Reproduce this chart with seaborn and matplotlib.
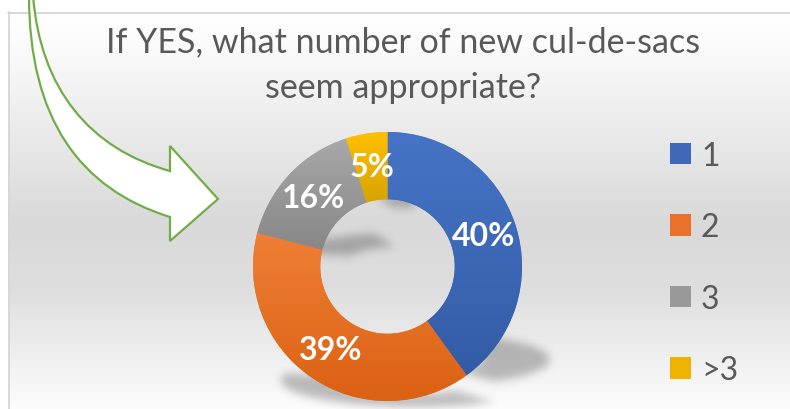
import numpy as np
import pandas as pd
import matplotlib
matplotlib.use("Agg")
import matplotlib.pyplot as plt
import seaborn as sns
from matplotlib.path import Path
from matplotlib.patches import PathPatch
from matplotlib.colors import LinearSegmentedColormap

# ---- data -------------------------------------------------------------
categories = ["1", "2", "3", ">3"]
shares = [40, 39, 16, 5]
title_lines = ["If YES, what number of new cul-de-sacs", "seem appropriate?"]

df = pd.DataFrame({"answer": categories, "share": shares})

# ---- style ------------------------------------------------------------
sns.set_theme(style="white")
plt.rcParams["font.family"] = ["Lato", "DejaVu Sans"]

TEXT = "#595959"
slice_top = ["#4674c6", "#ef7f35", "#a8a8a8", "#ffc000"]
slice_bottom = ["#335ca6", "#db6113", "#878787", "#d8a200"]
palette = sns.color_palette(["#3f69b8", "#e8702a", "#999999", "#eeb300"])

W, H = 790, 410
fig = plt.figure(figsize=(W / 100, H / 100), dpi=100)

# ---- background layer (pixel coordinates, y down) ---------------------
bg = fig.add_axes([0, 0, 1, 1], zorder=0)
bg.set_xlim(0, W)
bg.set_ylim(H, 0)
bg.axis("off")

rows = np.arange(H) + 0.5
level = np.interp(rows, [13, 45, 225, 290, 410], [1.0, 0.985, 0.85, 0.87, 0.99])
shade = np.repeat(level[:, None], W, axis=1)
shade[:13, :] = 1.0
shade[:, :8] = 1.0
bg.imshow(np.dstack([shade] * 3), extent=(0, W, H, 0), aspect="auto",
          interpolation="bilinear", zorder=0)
bg.plot([8, W], [13.5, 13.5], color="#d6d6d6", lw=1.3, zorder=1)
bg.plot([8.5, 8.5], [13, H], color="#d6d6d6", lw=1.3, zorder=1)

# ---- donut ------------------------------------------------------------
cx, cy, R = 387.5, 267.5, 134.5
ax = fig.add_axes([(cx - R) / W, (H - cy - R) / H, 2 * R / W, 2 * R / H], zorder=2)
ax.set_facecolor("none")

wedges, texts, autotexts = ax.pie(
    df["share"], colors=palette, startangle=90, counterclock=False,
    radius=1.0, autopct="%.0f%%", pctdistance=0.75,
    wedgeprops=dict(width=0.5, linewidth=0),
    textprops=dict(color="white", fontsize=23, fontweight="bold"),
)

# vertical colour gradient inside every slice
for w, top, bot in zip(wedges, slice_top, slice_bottom):
    ext = w.get_path().get_extents()
    cmap = LinearSegmentedColormap.from_list("g", [bot, top])
    grad = np.linspace(0, 1, 256).reshape(-1, 1)
    im = ax.imshow(grad, cmap=cmap, origin="lower", aspect="auto",
                   extent=(ext.x0, ext.x1, ext.y0, ext.y1),
                   interpolation="bilinear", zorder=w.get_zorder() + 0.1)
    im.set_clip_path(w)

ax.set_xlim(-1, 1)
ax.set_ylim(-1, 1)
ax.axis("off")

# ---- soft floor shadow under each slice --------------------------------
yy, xx = np.mgrid[0:H, 0:W]
pts = np.column_stack([xx.ravel() + 0.5, H - yy.ravel() - 0.5])
mask = np.zeros(H * W)
squash, shift_x, shift_y = 0.2, 28, -6
for w in wedges:
    p = w.get_transform().transform_path(w.get_path())
    e = p.get_extents()
    v = p.vertices.copy()
    v[:, 1] = e.y0 + (v[:, 1] - e.y0) * squash + shift_y
    v[:, 0] = v[:, 0] + shift_x
    mask = np.maximum(mask, Path(v, p.codes).contains_points(pts))
mask = mask.reshape(H, W)


def gauss_blur(a, sigma):
    r = int(3 * sigma)
    t = np.arange(-r, r + 1)
    k = np.exp(-t ** 2 / (2 * sigma ** 2))
    k /= k.sum()
    a = np.apply_along_axis(lambda m: np.convolve(m, k, mode="same"), 0, a)
    a = np.apply_along_axis(lambda m: np.convolve(m, k, mode="same"), 1, a)
    return a


soft = gauss_blur(mask, 4.5)
rgba = np.zeros((H, W, 4))
rgba[..., 3] = soft * 0.25
bg.imshow(rgba, extent=(0, W, H, 0), aspect="auto", interpolation="bilinear", zorder=2)

# ---- curved callout arrow ---------------------------------------------
arrow_verts = [
    (33, -4),
    (40, 90), (90, 150), (170, 172),
    (170, 147), (218, 200), (170, 242), (170, 218),
    (80, 190), (29, 120), (29, -4),
    (33, -4),
]
arrow_codes = [Path.MOVETO,
               Path.CURVE4, Path.CURVE4, Path.CURVE4,
               Path.LINETO, Path.LINETO, Path.LINETO, Path.LINETO,
               Path.CURVE4, Path.CURVE4, Path.CURVE4,
               Path.CLOSEPOLY]
bg.add_patch(PathPatch(Path(arrow_verts, arrow_codes), facecolor="white",
                       edgecolor="#70ad47", lw=1.6, zorder=3))

# ---- title & legend ----------------------------------------------------
for line, base in zip(title_lines, [52, 98]):
    fig.text(403 / W, 1 - base / H, line, ha="center", va="baseline",
             fontsize=24.5, color=TEXT)

fig.legend(wedges, categories, loc="center left",
           bbox_to_anchor=(670 / W, 1 - 264 / H), frameon=False,
           fontsize=23, labelcolor=TEXT, handlelength=0.66, handleheight=0.66,
           handletextpad=0.31, labelspacing=1.3, borderpad=0, borderaxespad=0)

fig.savefig("out.png", dpi=100)
